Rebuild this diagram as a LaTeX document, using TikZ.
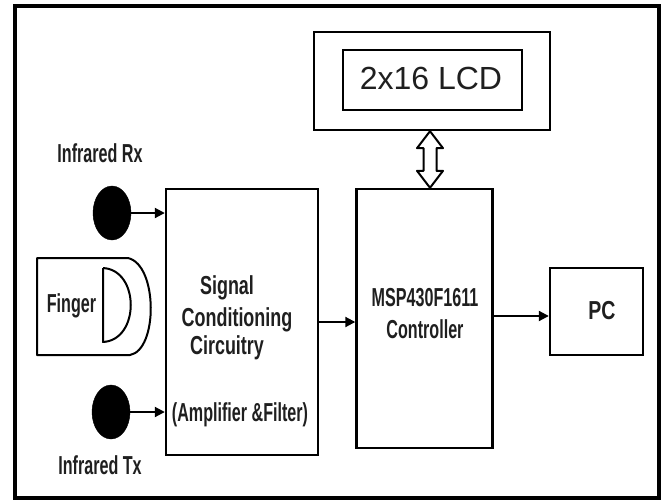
\documentclass[tikz,border=0pt]{standalone}
\usepackage{fontspec}
\setmainfont{Liberation Sans}
\newfontfamily\nfA{Liberation Sans Bold}[FakeStretch=0.62]
\newfontfamily\nfB{Liberation Sans Bold}[FakeStretch=0.69]
\newfontfamily\nfC{Liberation Sans Bold}[FakeStretch=0.75]
\usetikzlibrary{arrows.meta,shapes.geometric,calc}
\colorlet{txt}{black!88}
\begin{document}
\begin{tikzpicture}[x=1pt,y=-1pt,
  box/.style={draw,line width=2.4pt,rectangle,inner sep=0pt},
  lab/.style={font={\nfA\fontsize{26}{30}\selectfont},text=txt,inner sep=0pt,anchor=base},
  labB/.style={lab,font={\nfB\fontsize{26}{30}\selectfont}},
  labC/.style={lab,font={\nfC\fontsize{26}{30}\selectfont}},
  sensor/.style={ellipse,fill=black,draw=black,minimum width=38pt,minimum height=54pt,inner sep=0pt},
  arr/.style={line width=2pt,-{Triangle[length=10pt,width=10pt]}},
  dbl/.style={draw,line width=2pt,line join=round,fill=white}]
\useasboundingbox (0,0) rectangle (664,500);
\fill[white] (0,0) rectangle (664,500);
% outer frame
\draw[line width=3.5pt] (15,6) rectangle (659,498);

% LCD
\node[box,minimum width=236pt,minimum height=98pt] (lcd) at (432,81) {};
\node[box,minimum width=179pt,minimum height=60pt] (lcdin) at (432.5,80) {};
\node[font=\fontsize{32}{36}\selectfont,inner sep=0pt,anchor=base,text=txt] (lcdtxt) at (431,90) {2x16 LCD};

% blocks
\node[box,minimum width=152pt,minimum height=266pt] (sig) at (242,322) {};
\node[box,minimum width=136pt,minimum height=259pt] (ctrl) at (424.5,318.5) {};
\node[box,minimum width=93pt,minimum height=87pt] (pc) at (596.5,311.5) {};

% texts in blocks
\node[labB] (t1) at (227,294) {Signal};
\node[labB] (t2) at (237,326) {Conditioning};
\node[labB] (t3) at (227,354) {Circuitry};
\node[lab] (t4) at (240,421) {(Amplifier \&Filter)};
\node[lab] (t5) at (425,306) {MSP430F1611};
\node[lab] (t6) at (425,338) {Controller};
\node[labC] (t7) at (602,319) {PC};

% sensors
\node[sensor] (rx) at (112,213) {};
\node[sensor] (tx) at (111,412) {};
\node[lab] (rxl) at (100,163) {Infrared Rx};
\node[lab] (txl) at (100,474) {Infrared Tx};

% finger
\draw[line width=2pt,line join=round] (128,258) -- (37,258) -- (37,355) -- (130,355)
  .. controls (158,350) and (158,265) .. (128,258);
\draw[line width=2pt,line join=round] (103,268) -- (103,342)
  .. controls (140,340) and (140,270) .. (103,268);
\node[lab] (fl) at (71.5,312) {Finger};

% connectors
\draw[arr] (rx.east) -- (rx.east -| sig.west);
\draw[arr] (tx.east) -- (tx.east -| sig.west);
\draw[arr] (sig.east) -- (sig.east -| ctrl.west);
\draw[arr] (ctrl.east |- 0,316) -- (pc.west |- 0,316);

% bidirectional hollow arrow between LCD and controller
\coordinate (dtop) at ($(lcd.south)+(-2,0)$);
\coordinate (dbot) at (dtop |- ctrl.north);
\draw[dbl] (dtop) -- ++(13,17) -- ++(-6.5,0) -- ($(dbot)+(6.5,-17)$) -- ++(6.5,0)
  -- (dbot) -- ++(-13,-17) -- ++(6.5,0) -- ($(dtop)+(-6.5,17)$) -- ++(-6.5,0) -- cycle;
\end{tikzpicture}
\end{document}
